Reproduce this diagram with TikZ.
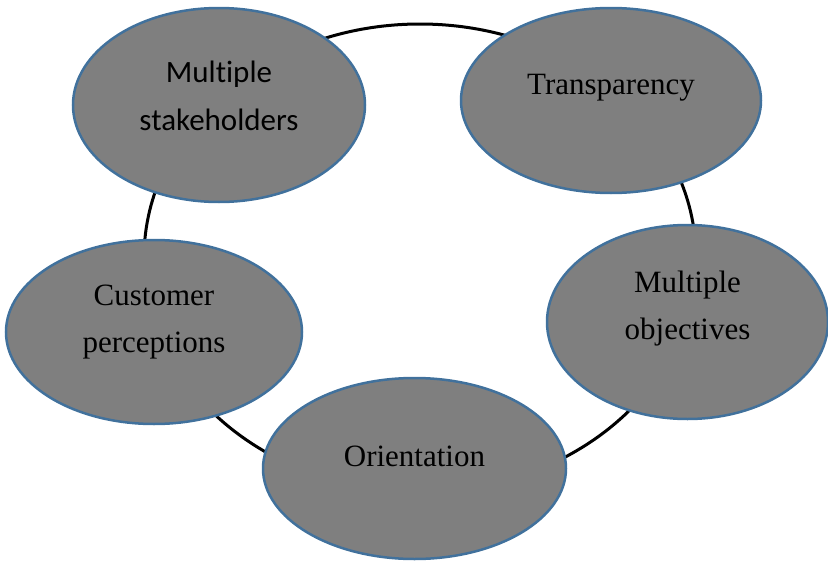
\documentclass[tikz,border=0pt]{standalone}
\usepackage{fontspec}
\setmainfont{Liberation Serif}
\newfontfamily\bodyfont[Ligatures=NoCommon]{Carlito}
\usepackage{xcolor}
\definecolor{Blue}{RGB}{65,113,156}
\definecolor{Gray}{RGB}{127,127,127}
\definecolor{Black}{RGB}{0,0,0}
\usetikzlibrary{shapes.geometric}

\begin{document}
\begin{tikzpicture}[x=1pt, y=-1pt,
	bubble/.style={ellipse, fill=Gray, draw=Blue, line width=2.5pt, inner sep=0pt},
	bubbletext/.style={align=center, text=Black, font=\fontsize{31}{47}\selectfont}]
		
		\useasboundingbox (0,0) rectangle (828,562);
		
		% Ring
		\draw[draw=Black, line width=3pt] (420,258) ellipse [x radius=276, y radius=234];
		
		% Ellipses
		\node[bubble, minimum width=292, minimum height=194] (stake)  at (219,105)   {};
		\node[bubble, minimum width=300, minimum height=185] (transp) at (611,100.5) {};
		\node[bubble, minimum width=296, minimum height=184] (cust)   at (154,332)   {};
		\node[bubble, minimum width=281, minimum height=194] (object) at (687.5,322) {};
		\node[bubble, minimum width=303, minimum height=181] (orient) at (414.5,468.5) {};
		
		% Text
		\node[bubbletext, font=\bodyfont\fontsize{31}{48}\selectfont] (stakelbl) at ([yshift=9pt]stake.center) {Multiple\\stakeholders};
		\node[bubbletext] (transplbl) at ([yshift=12.5pt]transp.center) {Transparency};
		\node[bubbletext] (custlbl)   at ([yshift=9.5pt]cust.center)    {Customer\\perceptions};
		\node[bubbletext] (objectlbl) at ([yshift=13pt]object.center)   {Multiple\\objectives};
		\node[bubbletext] (orientlbl) at ([yshift=12pt]orient.center)   {Orientation};
		
	\end{tikzpicture}
\end{document}
